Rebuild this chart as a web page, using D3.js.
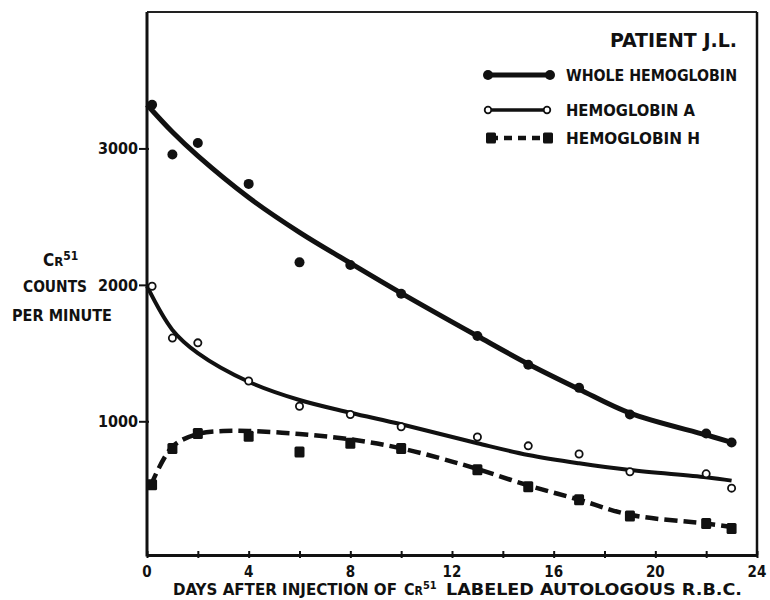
<!DOCTYPE html>
<html>
<head>
    <title>Patient J.L.</title>
    <script src="https://d3js.org/d3.v7.min.js"></script>
    <style>
        body { margin: 0; background: #fff; }
        text { font-family: "DejaVu Sans Condensed", "DejaVu Sans", sans-serif; font-weight: bold; fill: #111; }
    </style>
</head>
<body>
<svg width="770" height="600"></svg>
<script>
    // measured days (first point sits just off the axis)
    var days = [0.2, 1, 2, 4, 6, 8, 10, 13, 15, 17, 19, 22, 23];
    var wholeHb = [3320, 2955, 3040, 2740, 2165, 2145, 1935, 1625, 1415, 1245, 1050, 910, 845];
    var hbA = [1990, 1610, 1575, 1295, 1110, 1050, 960, 885, 820, 760, 630, 615, 510];
    var hbH = [535, 800, 910, 890, 775, 840, 800, 645, 520, 425, 305, 250, 215];

    // hand-drawn fitted curves
    var fitDays = [0, 1, 2, 4, 6, 8, 10, 13, 15, 17, 19, 22, 23];
    var wholeFit = [3320, 3120, 2945, 2640, 2385, 2160, 1940, 1625, 1420, 1235, 1060, 900, 846];
    var aFit = [1990, 1670, 1500, 1290, 1156, 1063, 978, 839, 753, 692, 643, 590, 565];
    var hFitDays = [0.15, 1, 2, 3, 4, 6, 8, 10, 12, 13, 15, 17, 19, 22, 23];
    var hFit = [530, 814, 907, 929, 929, 907, 868, 802, 705, 650, 530, 425, 315, 250, 225];

    var xTicks = [0, 4, 8, 12, 16, 20, 24];
    var yTicks = [1000, 2000, 3000];

    var svg = d3.select("svg");
    var mLeft = 147, mRight = 757, mTop = 12, mBottom = 555;

    var x = d3.scaleLinear().domain([0, 24]).range([mLeft, mRight]);
    var y = d3.scaleLinear().domain([20, 4000]).range([mBottom, mTop]);

    // frame
    svg.append("line").attr("x1", mLeft).attr("x2", mRight).attr("y1", mTop).attr("y2", mTop)
        .attr("stroke", "#222").attr("stroke-width", 2);
    svg.append("line").attr("x1", mRight).attr("x2", mRight).attr("y1", mTop).attr("y2", mBottom)
        .attr("stroke", "#111").attr("stroke-width", 2.5);

    // bottom axis
    var xAxis = svg.append("g").attr("transform", "translate(0," + mBottom + ")")
        .call(d3.axisBottom(x).tickValues(d3.range(0, 25, 2)).tickSize(0).tickFormat(""));
    xAxis.select(".domain").attr("stroke", "#111").attr("stroke-width", 3);
    xAxis.selectAll(".tick").append("line").attr("y1", -4).attr("y2", 3)
        .attr("stroke", "#111").attr("stroke-width", 2);
    svg.append("g").selectAll("text").data(xTicks).enter().append("text")
        .attr("x", function (d) { return x(d); })
        .attr("y", 577)
        .attr("text-anchor", "middle")
        .attr("font-size", 15)
        .text(function (d) { return d; });

    // left axis
    var yAxis = svg.append("g").attr("transform", "translate(" + mLeft + ",0)")
        .call(d3.axisLeft(y).tickValues(yTicks).tickSize(0).tickFormat(""));
    yAxis.select(".domain").remove();
    svg.append("line").attr("x1", mLeft).attr("x2", mLeft).attr("y1", mTop).attr("y2", mBottom + 1.5)
        .attr("stroke", "#111").attr("stroke-width", 3);
    yAxis.selectAll(".tick").append("line").attr("x1", -8).attr("x2", 2)
        .attr("stroke", "#111").attr("stroke-width", 2);
    svg.append("g").selectAll("text").data(yTicks).enter().append("text")
        .attr("x", 138)
        .attr("y", function (d) { return y(d) + 6; })
        .attr("text-anchor", "end")
        .attr("font-size", 16)
        .text(function (d) { return d; });

    // y title
    var cr = svg.append("text").attr("x", 43).attr("y", 266).attr("font-size", 17);
    cr.append("tspan").text("C");
    cr.append("tspan").attr("font-size", 13).text("R");
    cr.append("tspan").attr("font-size", 12).attr("dy", -6).text("51");
    svg.append("text").attr("x", 23).attr("y", 292).attr("font-size", 15)
        .attr("textLength", 64).attr("lengthAdjust", "spacingAndGlyphs").text("COUNTS");
    svg.append("text").attr("x", 12).attr("y", 321).attr("font-size", 15)
        .attr("textLength", 100).attr("lengthAdjust", "spacingAndGlyphs").text("PER MINUTE");

    // x title
    var xt = svg.append("text").attr("x", 173).attr("y", 595).attr("font-size", 15);
    xt.append("tspan").attr("textLength", 224).attr("lengthAdjust", "spacingAndGlyphs")
        .text("DAYS  AFTER  INJECTION  OF");
    xt.append("tspan").attr("x", 404).attr("font-size", 16).text("C");
    xt.append("tspan").attr("font-size", 12).text("R");
    xt.append("tspan").attr("font-size", 11).attr("dy", -6).text("51");
    xt.append("tspan").attr("x", 446).attr("dy", 6).attr("textLength", 296)
        .attr("lengthAdjust", "spacingAndGlyphs").text("LABELED  AUTOLOGOUS  R.B.C.");

    // curves
    var line = d3.line()
        .x(function (d) { return x(d[0]); })
        .y(function (d) { return y(d[1]); })
        .curve(d3.curveCatmullRom.alpha(0.5));

    svg.append("path").datum(d3.zip(fitDays, wholeFit)).attr("d", line)
        .attr("fill", "none").attr("stroke", "#111").attr("stroke-width", 5);
    svg.append("path").datum(d3.zip(fitDays, aFit)).attr("d", line)
        .attr("fill", "none").attr("stroke", "#111").attr("stroke-width", 4);
    svg.append("path").datum(d3.zip(hFitDays, hFit)).attr("d", line)
        .attr("fill", "none").attr("stroke", "#111").attr("stroke-width", 4.5)
        .attr("stroke-dasharray", "13,6");

    // markers
    svg.append("g").selectAll("circle").data(d3.zip(days, wholeHb)).enter().append("circle")
        .attr("cx", function (d) { return x(d[0]); })
        .attr("cy", function (d) { return y(d[1]); })
        .attr("r", 5).attr("fill", "#111");
    svg.append("g").selectAll("circle").data(d3.zip(days, hbA)).enter().append("circle")
        .attr("cx", function (d) { return x(d[0]); })
        .attr("cy", function (d) { return y(d[1]); })
        .attr("r", 3.6).attr("fill", "#fff").attr("stroke", "#111").attr("stroke-width", 1.8);
    svg.append("g").selectAll("rect").data(d3.zip(days, hbH)).enter().append("rect")
        .attr("x", function (d) { return x(d[0]) - 5; })
        .attr("y", function (d) { return y(d[1]) - 5.5; })
        .attr("width", 10).attr("height", 11).attr("rx", 1.5).attr("fill", "#111");

    // legend
    svg.append("text").attr("x", 610).attr("y", 47).attr("font-size", 19)
        .attr("textLength", 127).attr("lengthAdjust", "spacingAndGlyphs").text("PATIENT J.L.");

    var legend = [
        {label: "WHOLE HEMOGLOBIN", y: 75, len: 171},
        {label: "HEMOGLOBIN A", y: 110, len: 129},
        {label: "HEMOGLOBIN H", y: 138, len: 134}
    ];
    legend.forEach(function (l, i) {
        var g = svg.append("g");
        if (i === 0) {
            g.append("line").attr("x1", 488).attr("x2", 550).attr("y1", l.y).attr("y2", l.y)
                .attr("stroke", "#111").attr("stroke-width", 5);
            g.selectAll("circle").data([488, 550]).enter().append("circle")
                .attr("cx", function (d) { return d; }).attr("cy", l.y).attr("r", 5).attr("fill", "#111");
        } else if (i === 1) {
            g.append("line").attr("x1", 488).attr("x2", 547).attr("y1", l.y).attr("y2", l.y)
                .attr("stroke", "#111").attr("stroke-width", 3.5);
            g.selectAll("circle").data([488, 547]).enter().append("circle")
                .attr("cx", function (d) { return d; }).attr("cy", l.y).attr("r", 3.3)
                .attr("fill", "#fff").attr("stroke", "#111").attr("stroke-width", 1.8);
        } else {
            g.append("line").attr("x1", 490).attr("x2", 550).attr("y1", l.y).attr("y2", l.y)
                .attr("stroke", "#111").attr("stroke-width", 4.5).attr("stroke-dasharray", "8,6");
            g.selectAll("rect").data([491, 548]).enter().append("rect")
                .attr("x", function (d) { return d - 5; }).attr("y", l.y - 5.5)
                .attr("width", 10).attr("height", 11).attr("rx", 1.5).attr("fill", "#111");
        }
        g.append("text").attr("x", 566).attr("y", l.y + 6).attr("font-size", 15)
            .attr("textLength", l.len).attr("lengthAdjust", "spacingAndGlyphs").text(l.label);
    });
</script>
</body>
</html>
